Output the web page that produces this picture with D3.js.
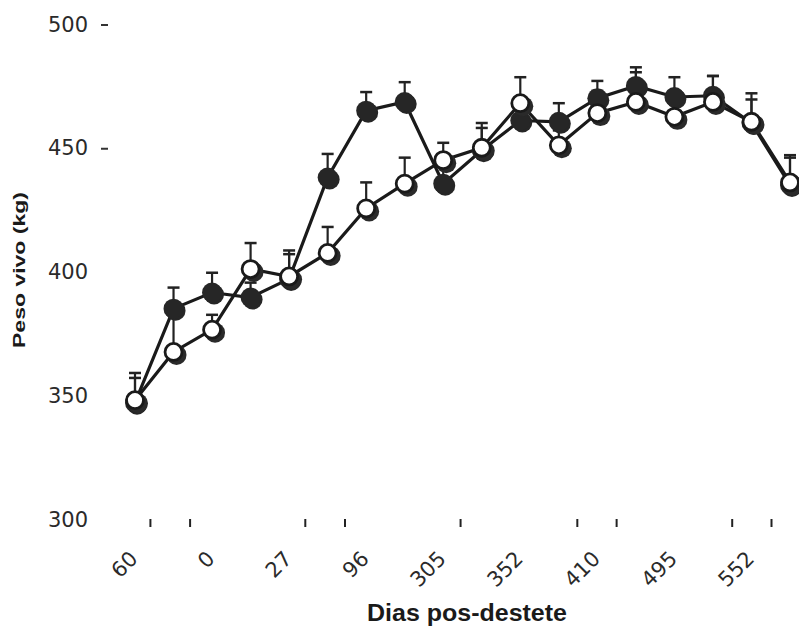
<!DOCTYPE html>
<html>
<head>
<meta charset="utf-8">
<script src="https://cdn.jsdelivr.net/npm/d3@7"></script>
<style>
    body { margin: 0; background: #fff; }
    #wrapper svg { display: block; }
    .tick-label { font-family: "DejaVu Sans", sans-serif; fill: #2a2a2a; }
    .axis-title { font-family: "Liberation Sans", Arial, sans-serif; font-weight: bold; fill: #1a1a1a; }
</style>
</head>
<body>
<div id="wrapper"></div>
<script>
// sampling points (index along the x axis) and their day labels
const dayLabels = ["60", "0", "27", "96", "305", "352", "410", "495", "552"];
const labelIndex = [0, 2, 4, 6, 8, 10, 12, 14, 16];
const xTickPos = [0.4, 1.43, 4.42, 5.45, 8.45, 11.48, 12.5, 15.5, 16.52];
const yLabels = [300, 350, 400, 450, 500];
const yDashTicks = [450, 500];

// live weight (kg), filled circles
const filledWeight = [347, 385, 391.5, 389.5, 397, 438, 465, 468.5, 435.5, 449, 461, 460.5, 470, 475, 470.5, 471, 460, 435];
const filledErr = [10, 8.5, 8, 6, 10, 9.5, 7.5, 8, 7, 9, 6, 7.5, 7, 7.5, 8, 8, 12, 11];
// live weight (kg), open circles
const openWeight = [348, 367.5, 376.5, 401, 398, 407.5, 425.5, 435.5, 445, 450, 468, 451, 464, 468.5, 462.5, 468.5, 460.5, 436];
const openErr = [11, 16, 6, 10.5, 10.5, 10.5, 10.5, 10.5, 7, 10, 10.5, 6, 9, 12, 6, 10.5, 9, 11];

function draw() {
    const dimensions = {
        width: 799,
        height: 626,
    };

    const svg = d3.select("#wrapper")
        .append("svg")
        .attr("width", dimensions.width)
        .attr("height", dimensions.height);

    const xScale = d3.scaleLinear()
        .domain([0, 17])
        .range([135, 790]);

    const yScale = d3.scaleLinear()
        .domain([300, 500])
        .range([519, 24]);

    const idx = d3.range(filledWeight.length);

    // y tick labels
    svg.append("g")
        .selectAll("text")
        .data(yLabels)
        .join("text")
        .attr("class", "tick-label")
        .attr("x", 88)
        .attr("y", d => yScale(d))
        .attr("dy", "0.36em")
        .attr("text-anchor", "end")
        .style("font-size", "21px")
        .text(d => d);

    svg.append("g")
        .selectAll("line")
        .data(yDashTicks)
        .join("line")
        .attr("x1", 101)
        .attr("x2", 108)
        .attr("y1", d => yScale(d) + 1)
        .attr("y2", d => yScale(d) + 1)
        .attr("stroke", "#333")
        .attr("stroke-width", 2);

    // x ticks
    svg.append("g")
        .selectAll("line")
        .data(xTickPos)
        .join("line")
        .attr("x1", d => xScale(d))
        .attr("x2", d => xScale(d))
        .attr("y1", yScale(300))
        .attr("y2", yScale(300) + 8)
        .attr("stroke", "#222")
        .attr("stroke-width", 2);

    svg.append("g")
        .selectAll("text")
        .data(dayLabels)
        .join("text")
        .attr("class", "tick-label")
        .attr("text-anchor", "end")
        .attr("transform", (d, i) => `translate(${xScale(labelIndex[i]) + 4},560) rotate(-45)`)
        .style("font-size", "21px")
        .text(d => d);

    // axis titles
    svg.append("text")
        .attr("class", "axis-title")
        .attr("transform", "translate(25,270) rotate(-90)")
        .attr("text-anchor", "middle")
        .attr("textLength", 156)
        .attr("lengthAdjust", "spacingAndGlyphs")
        .style("font-size", "16px")
        .text("Peso vivo (kg)");

    svg.append("text")
        .attr("class", "axis-title")
        .attr("x", 467)
        .attr("y", 621)
        .attr("text-anchor", "middle")
        .attr("textLength", 200)
        .attr("lengthAdjust", "spacingAndGlyphs")
        .style("font-size", "23px")
        .text("Dias pos-destete");

    const lineGen = values => d3.line()
        .x(i => xScale(i))
        .y(i => yScale(values[i]));

    const plot = svg.append("g");

    // error bars (upper only)
    const drawErr = (values, errs) => {
        const g = plot.append("g");
        g.selectAll("line.stem")
            .data(idx)
            .join("line")
            .attr("class", "stem")
            .attr("x1", i => xScale(i))
            .attr("x2", i => xScale(i))
            .attr("y1", i => yScale(values[i]))
            .attr("y2", i => yScale(values[i] + errs[i]))
            .attr("stroke", "#222")
            .attr("stroke-width", 2.2);
        g.selectAll("line.cap")
            .data(idx)
            .join("line")
            .attr("class", "cap")
            .attr("x1", i => xScale(i) - 6)
            .attr("x2", i => xScale(i) + 6)
            .attr("y1", i => yScale(values[i] + errs[i]))
            .attr("y2", i => yScale(values[i] + errs[i]))
            .attr("stroke", "#222")
            .attr("stroke-width", 2.5);
    };
    drawErr(filledWeight, filledErr);
    drawErr(openWeight, openErr);

    plot.append("path")
        .datum(idx)
        .attr("d", lineGen(filledWeight))
        .attr("fill", "none")
        .attr("stroke", "#1a1a1a")
        .attr("stroke-width", 3.2);

    plot.append("path")
        .datum(idx)
        .attr("d", lineGen(openWeight))
        .attr("fill", "none")
        .attr("stroke", "#1a1a1a")
        .attr("stroke-width", 3.2);

    // filled markers (with shadow)
    plot.append("g")
        .selectAll("circle")
        .data(idx)
        .join("circle")
        .attr("cx", i => xScale(i) + 2)
        .attr("cy", i => yScale(filledWeight[i]) + 2)
        .attr("r", 10)
        .attr("fill", "#262626");
    plot.append("g")
        .selectAll("circle")
        .data(idx)
        .join("circle")
        .attr("cx", i => xScale(i))
        .attr("cy", i => yScale(filledWeight[i]))
        .attr("r", 10)
        .attr("fill", "#262626");

    // open markers (dark shadow bottom-right)
    plot.append("g")
        .selectAll("circle")
        .data(idx)
        .join("circle")
        .attr("cx", i => xScale(i) + 3)
        .attr("cy", i => yScale(openWeight[i]) + 3)
        .attr("r", 10)
        .attr("fill", "#2a2a2a");
    plot.append("g")
        .selectAll("circle")
        .data(idx)
        .join("circle")
        .attr("cx", i => xScale(i))
        .attr("cy", i => yScale(openWeight[i]))
        .attr("r", 8.5)
        .attr("fill", "#fff")
        .attr("stroke", "#1a1a1a")
        .attr("stroke-width", 2.8);
}
draw();
</script>
</body>
</html>
